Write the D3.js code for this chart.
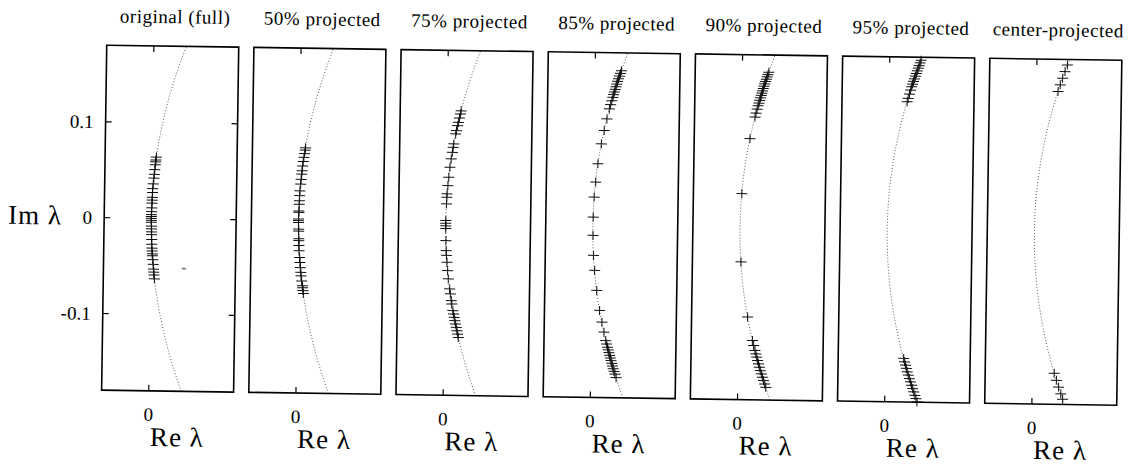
<!DOCTYPE html>
<html>
<head>
<meta charset="utf-8">
<script src="https://cdn.jsdelivr.net/npm/d3@7"></script>
<style>
  body { margin: 0; background: #fff; }
  svg { display: block; }
  text { font-family: "Liberation Serif", "Times New Roman", Tinos, "DejaVu Serif", serif; }
</style>
</head>
<body>
<div id="chart"></div>
<script>
// panel titles, left to right
const titles = ["original (full)", "50% projected", "75% projected", "85% projected",
                "90% projected", "95% projected", "center-projected"];

const yTicks = [0.1, 0, -0.1];
const yTickLabels = ["0.1", "0", "-0.1"];
const xTicks = [0];

// the dotted reference curve (Im, Re)
const curveIm = [-0.18, -0.15, -0.12, -0.09, -0.06, -0.03, 0, 0.03, 0.06, 0.09, 0.12, 0.15, 0.18];
const curveRe = [0.0344, 0.0239, 0.0153, 0.0086, 0.0038, 0.00095, 0, 0.00095, 0.0038, 0.0086, 0.0153, 0.0239, 0.0344];

// eigenvalues (Im part) per panel, they sit on the curve
const eigOriginal = [0.064, 0.061, 0.059, 0.056, 0.051, 0.046, 0.042, 0.036, 0.031, 0.027, 0.022, 0.019, 0.016,
  0.011, 0.007, 0.004, 0.002, 0.000, -0.002, -0.004, -0.008, -0.011, -0.014, -0.017, -0.022, -0.027, -0.031,
  -0.034, -0.037, -0.039, -0.043, -0.048, -0.053, -0.056, -0.059, -0.063];
const strayOriginal = [[0.0354, -0.052]];
const eig50 = [0.076, 0.0736, 0.070, 0.066, 0.0617, 0.057, 0.052, 0.0485, 0.043, 0.038, 0.031, 0.026, 0.0207,
  0.017, 0.010, 0.0085, 0.0016, 0.000, -0.002, -0.009, -0.011, -0.019, -0.021, -0.026, -0.0315, -0.0385,
  -0.0437, -0.049, -0.054, -0.0576, -0.063, -0.068, -0.070, -0.073, -0.076];
const eig75 = [0.117, 0.1137, 0.1095, 0.1049, 0.1015, 0.0962, 0.0928, 0.0824, 0.0788, 0.0736, 0.0667, 0.058,
  0.0475, 0.0388, 0.0302, 0.0266, 0.0197, 0.0023, -0.0005, -0.0032, -0.006, -0.0186, -0.029, -0.034, -0.0412,
  -0.0499, -0.0586, -0.069, -0.0742, -0.0812, -0.0847, -0.0916, -0.0951, -0.0986, -0.102, -0.1055, -0.109,
  -0.1125, -0.116, -0.1195];
const eig85 = [0.1613, 0.1585, 0.1557, 0.1529, 0.1501, 0.1473, 0.1445, 0.1418, 0.139, 0.1362, 0.1334, 0.1299,
  0.1258, 0.1213, 0.1108, 0.0987, 0.0847, 0.0639, 0.0447, 0.0291, 0.0082, -0.0109, -0.0318, -0.0474, -0.0683,
  -0.0891, -0.1013, -0.1117, -0.1205, -0.124, -0.1274, -0.1302, -0.133, -0.1358, -0.1386, -0.1413, -0.1441,
  -0.1469, -0.1497, -0.1525, -0.1553, -0.159];
const eig90 = [0.162, 0.1596, 0.1572, 0.1547, 0.1523, 0.1499, 0.1474, 0.145, 0.1425, 0.1401, 0.1377, 0.1352,
  0.1325, 0.1297, 0.1269, 0.1234, 0.1192, 0.115, 0.0924, 0.035, -0.0363, -0.0937, -0.1181, -0.1233, -0.1285,
  -0.132, -0.1354, -0.1389, -0.1424, -0.1459, -0.1494, -0.1528, -0.1563, -0.1598, -0.1633, -0.1668];
const eig95 = [0.1769, 0.1741, 0.1713, 0.1686, 0.1658, 0.163, 0.1602, 0.1574, 0.1547, 0.1519, 0.1491, 0.1456,
  0.1414, 0.1369, 0.1334, -0.1345, -0.138, -0.1415, -0.1449, -0.1484, -0.1519, -0.1554, -0.1589, -0.1623,
  -0.1658, -0.1693, -0.1728, -0.1763, -0.1797];
const eigCenter = [0.1742, 0.1673, 0.1603, 0.1534, 0.1464, -0.1476, -0.155, -0.162, -0.169, -0.1746];

const panels = [eigOriginal, eig50, eig75, eig85, eig90, eig95, eigCenter];

const width = 1128, height = 467;
const panelTop = 52, panelW = 132, panelH = 345;
const panelLeft = i => 104 + i * 147.2;

const svg = d3.select("#chart").append("svg")
    .attr("width", width)
    .attr("height", height);

// the scanned page is a little tilted
const page = svg.append("g")
    .attr("transform", "rotate(0.85, 564, 233)");

const x = d3.scaleLinear().domain([-0.05, 0.09]).range([0, panelW]);
const y = d3.scaleLinear().domain([-0.18, 0.18]).range([panelH, 0]);
const reOfIm = d3.scaleLinear().domain(curveIm).range(curveRe);

const curveLine = d3.line()
    .x(d => x(d[1]))
    .y(d => y(d[0]))
    .curve(d3.curveNatural);
const curvePts = curveIm.map((im, i) => [im, curveRe[i]]);

panels.forEach((eigs, i) => {
    const g = page.append("g")
        .attr("transform", `translate(${panelLeft(i)},${panelTop})`);

    g.append("path")
        .attr("d", curveLine(curvePts))
        .attr("fill", "none")
        .attr("stroke", "#333")
        .attr("stroke-width", 0.8)
        .attr("stroke-dasharray", "1,2");

    g.selectAll("path.eig")
        .data(eigs)
        .enter().append("path")
        .attr("class", "eig")
        .attr("d", im => {
            const px = x(reOfIm(im)), py = y(im);
            return `M${px - 5.5},${py}h11M${px},${py - 4.5}v9`;
        })
        .attr("stroke", "#111")
        .attr("stroke-width", 1)
        .attr("fill", "none");

    if (i === 0) {
        g.selectAll("path.stray")
            .data(strayOriginal)
            .enter().append("path")
            .attr("class", "stray")
            .attr("d", d => `M${x(d[0]) - 2.5},${y(d[1])}h5M${x(d[0])},${y(d[1]) - 1.5}v3`)
            .attr("stroke", "#555")
            .attr("stroke-width", 0.8);
    }

    // frame
    g.append("rect")
        .attr("width", panelW)
        .attr("height", panelH)
        .attr("fill", "none")
        .attr("stroke", "#000")
        .attr("stroke-width", 1.6);

    // Re = 0 ticks, top and bottom, pointing in
    xTicks.forEach(t => {
        g.append("line")
            .attr("x1", x(t)).attr("x2", x(t))
            .attr("y1", 0).attr("y2", 6)
            .attr("stroke", "#000").attr("stroke-width", 1.2);
        g.append("line")
            .attr("x1", x(t)).attr("x2", x(t))
            .attr("y1", panelH).attr("y2", panelH - 6)
            .attr("stroke", "#000").attr("stroke-width", 1.2);
        g.append("text")
            .attr("x", x(t))
            .attr("y", panelH + 30)
            .attr("text-anchor", "middle")
            .style("font-size", "19px")
            .text(d3.format("d")(t));
    });

    if (i === 0) {
        yTicks.forEach((t, k) => {
            g.append("line")
                .attr("x1", 0).attr("x2", 6)
                .attr("y1", y(t)).attr("y2", y(t))
                .attr("stroke", "#000").attr("stroke-width", 1.2);
            g.append("line")
                .attr("x1", panelW).attr("x2", panelW - 6)
                .attr("y1", y(t)).attr("y2", y(t))
                .attr("stroke", "#000").attr("stroke-width", 1.2);
            g.append("text")
                .attr("x", -12)
                .attr("y", y(t) + 6.5)
                .attr("text-anchor", "end")
                .style("font-size", "19px")
                .text(yTickLabels[k]);
        });
    }

    g.append("text")
        .attr("x", panelW / 2 + 2)
        .attr("y", -23)
        .attr("text-anchor", "middle")
        .style("font-size", "19px")
        .style("letter-spacing", "0.5px")
        .text(titles[i]);

    g.append("text")
        .attr("x", 76)
        .attr("y", panelH + 55)
        .attr("text-anchor", "middle")
        .style("font-size", "27px")
        .style("letter-spacing", "1px")
        .text("Re \u03bb");
});

page.append("text")
    .attr("x", 8)
    .attr("y", 232)
    .style("font-size", "27px")
    .style("letter-spacing", "1px")
    .text("Im \u03bb");
</script>
</body>
</html>
